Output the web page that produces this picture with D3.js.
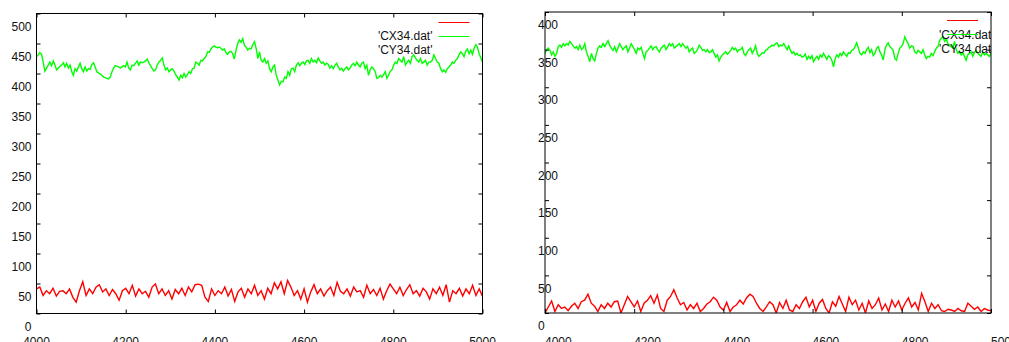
<!DOCTYPE html>
<html>
<head>
<meta charset="utf-8">
<script src="https://cdn.jsdelivr.net/npm/d3@7"></script>
<style>
  body { margin: 0; background: #fff; }
  svg { display: block; font-family: "Liberation Sans", Arial, sans-serif; font-size: 12px; }
</style>
</head>
<body>
<svg id="chart" width="1009" height="342"></svg>
<script>
// x range shared by both plots
var xDomain = [4000, 5000];
var xTicks = [4000, 4200, 4400, 4600, 4800, 5000];
var leftYTicks = [0, 50, 100, 150, 200, 250, 300, 350, 400, 450, 500];
var rightYTicks = [0, 50, 100, 150, 200, 250, 300, 350, 400];
var seriesNames = ["'CX34.dat'", "'CY34.dat'"];
var seriesColors = ["#ff0000", "#00ff00"];

// left plot, values (evenly spaced over 4000..5000)
var leftCX = [41,44,30,38,33,42,29,37,38,33,41,27,19,38,53,30,41,33,44,48,36,41,30,40,33,22,38,42,33,47,29,41,33,37,27,44,49,33,41,30,38,24,40,33,42,30,44,36,48,49,47,27,20,41,30,38,33,44,29,40,20,36,42,27,41,33,47,30,38,24,42,33,51,41,53,33,55,44,30,38,24,41,19,36,48,33,41,29,38,44,30,52,37,33,41,29,44,36,38,27,47,33,40,30,42,24,38,49,41,33,44,30,40,48,33,38,29,42,36,24,41,33,44,30,48,19,38,33,42,29,41,33,47,30,41,29];
var leftCY = [428,431,435,432,419,404,409,414,419,413,421,414,406,409,412,414,418,411,417,409,414,403,397,408,404,411,417,408,403,411,404,408,407,415,418,411,403,401,399,397,394,393,392,391,394,403,409,413,412,411,409,411,413,411,419,409,406,414,413,417,421,414,419,418,419,421,424,418,413,408,404,406,414,419,422,426,414,406,409,403,406,408,404,398,394,389,397,393,400,394,398,403,400,408,409,419,417,414,422,421,425,428,436,435,441,444,446,444,443,444,442,439,441,435,432,436,437,433,424,439,450,456,452,458,447,444,439,442,441,448,453,442,425,
  436,422,419,425,417,421,408,403,411,414,397,389,381,387,386,394,392,403,397,408,409,403,414,418,413,417,419,415,421,422,417,425,419,422,418,426,421,417,419,414,417,415,409,413,408,414,417,411,406,409,404,408,411,406,409,414,417,413,419,414,411,417,419,408,414,397,406,411,408,403,392,393,397,394,398,403,392,397,404,406,414,419,417,425,422,419,428,414,419,422,417,428,431,426,422,419,425,417,419,422,414,419,419,422,431,425,419,417,408,403,406,402,408,411,414,419,417,422,425,431,436,433,428,437,441,433,439,432,442,448,444,433,426,419];

// right plot
var rightCX = [0,8,16,2,11,6,8,3,9,13,6,15,17,25,13,9,2,11,6,13,8,15,16,0,11,22,15,8,16,2,13,17,23,13,24,6,2,17,22,31,20,11,14,4,11,6,13,2,6,12,15,21,17,8,4,14,2,8,11,17,12,20,25,22,13,6,2,8,15,11,0,14,6,17,4,2,11,6,15,21,8,17,2,13,18,6,0,15,9,22,12,2,21,11,17,4,13,0,16,6,11,20,4,12,2,17,8,16,4,13,20,8,14,4,26,15,2,13,6,11,3,2,5,4,2,6,3,2,13,9,5,8,2,6,4,3];
var rightCY = [345,350,352,349,343,347,341,345,354,356,353,358,355,358,356,361,358,355,352,354,350,356,350,352,358,347,341,334,345,338,335,345,352,355,353,358,354,358,362,356,352,349,354,347,352,358,354,350,353,355,347,352,358,354,350,345,352,350,353,345,338,347,349,352,355,350,353,354,350,347,352,354,356,350,354,358,355,358,352,354,356,358,354,358,355,352,354,347,350,352,345,347,350,356,353,349,350,347,350,346,347,350,345,340,343,335,340,343,345,347,344,346,349,353,350,352,347,350,350,353,345,342,347,350,352,345,349,355,345,341,343,346,345,349,350,353,
  354,356,355,358,359,354,356,355,358,354,350,355,349,345,347,343,345,342,343,340,341,344,337,341,338,342,334,338,341,337,343,340,345,341,337,342,340,336,327,338,343,340,345,342,347,344,341,346,345,349,350,354,359,352,345,343,347,345,350,353,346,350,342,345,352,354,347,343,336,350,356,359,354,352,349,338,336,345,352,354,358,367,362,358,352,355,354,347,345,349,347,345,350,343,338,341,340,345,342,347,352,354,362,365,367,361,364,358,356,354,352,361,350,345,347,343,346,341,336,343,345,347,341,346,349,345,343,341,347,343,345,343,341,345];

var svg = d3.select("#chart");

drawPanel({ id: "l", left: 36.5, right: 482.5, top: 13.5, bottom: 313.5, ymax: 500,
  yTicks: leftYTicks, series: [leftCX, leftCY], startText: false });
drawPanel({ id: "r", left: 545, right: 991, top: 12, bottom: 313, ymax: 400,
  yTicks: rightYTicks, series: [rightCX, rightCY], startText: true });

function drawPanel(p) {
  var x = d3.scaleLinear().domain(xDomain).range([p.left, p.right]);
  var y = d3.scaleLinear().domain([0, p.ymax]).range([p.bottom, p.top]);
  var g = svg.append("g");

  g.append("clipPath").attr("id", "clip-" + p.id)
    .append("rect")
    .attr("x", p.left).attr("y", p.top)
    .attr("width", p.right - p.left).attr("height", p.bottom - p.top);

  // data lines
  var plot = g.append("g").attr("clip-path", "url(#clip-" + p.id + ")");
  p.series.forEach(function(vals, k) {
    var step = (xDomain[1] - xDomain[0]) / (vals.length - 1);
    var line = d3.line()
      .x(function(d, i) { return x(xDomain[0] + i * step); })
      .y(function(d) { return y(d); });
    plot.append("path")
      .datum(vals)
      .attr("d", line)
      .attr("fill", "none")
      .attr("stroke", seriesColors[k])
      .attr("stroke-width", 1.4);
  });

  // ticks on all four sides, pointing inward
  g.append("g").attr("transform", "translate(" + p.left + ",0)")
    .call(d3.axisLeft(y).tickValues(p.yTicks).tickSizeInner(-4).tickSizeOuter(0).tickFormat(""));
  g.append("g").attr("transform", "translate(" + p.right + ",0)")
    .call(d3.axisRight(y).tickValues(p.yTicks).tickSizeInner(-4).tickSizeOuter(0).tickFormat(""));
  g.append("g").attr("transform", "translate(0," + p.bottom + ")")
    .call(d3.axisBottom(x).tickValues(xTicks).tickSizeInner(-4).tickSizeOuter(0).tickFormat(""));
  g.append("g").attr("transform", "translate(0," + p.top + ")")
    .call(d3.axisTop(x).tickValues(xTicks).tickSizeInner(-4).tickSizeOuter(0).tickFormat(""));
  g.selectAll(".domain").remove();
  g.selectAll(".tick line").attr("stroke", "#000");

  // frame
  g.append("rect")
    .attr("x", p.left).attr("y", p.top)
    .attr("width", p.right - p.left).attr("height", p.bottom - p.top)
    .attr("fill", "none").attr("stroke", "#000").attr("stroke-width", 1);

  // tick labels (they sit a bit below their ticks in the original)
  g.selectAll(".ylab").data(p.yTicks).enter().append("text")
    .attr("class", "ylab")
    .attr("x", p.startText ? p.left - 7 : p.left - 5)
    .attr("y", function(d) { return y(d) + 13; })
    .attr("dy", "0.35em")
    .attr("text-anchor", p.startText ? "start" : "end")
    .attr("fill", "#111")
    .text(function(d) { return d; });

  g.selectAll(".xlab").data(xTicks).enter().append("text")
    .attr("class", "xlab")
    .attr("x", function(d) { return x(d); })
    .attr("y", 346)
    .attr("text-anchor", p.startText ? "start" : "middle")
    .attr("fill", "#111")
    .text(function(d) { return d; });

  // legend
  var sx1 = p.right - 44, sx2 = p.right - 13;
  var leg = g.append("g").attr("clip-path", "url(#clip-" + p.id + ")");
  seriesNames.forEach(function(name, k) {
    var ry = p.top + 8.5 + k * 14;
    leg.append("text")
      .attr("x", p.startText ? sx1 - 8 : sx1 - 6)
      .attr("y", ry + 14)
      .attr("dy", "0.35em")
      .attr("text-anchor", p.startText ? "start" : "end")
      .attr("fill", "#111")
      .text(name);
  });
  seriesNames.forEach(function(name, k) {
    var ry = Math.round(p.top + 8) + 0.5 + k * 14;
    leg.append("line")
      .attr("x1", sx1).attr("x2", sx2)
      .attr("y1", ry).attr("y2", ry)
      .attr("stroke", seriesColors[k]).attr("stroke-width", 1);
  });
}
</script>
</body>
</html>
